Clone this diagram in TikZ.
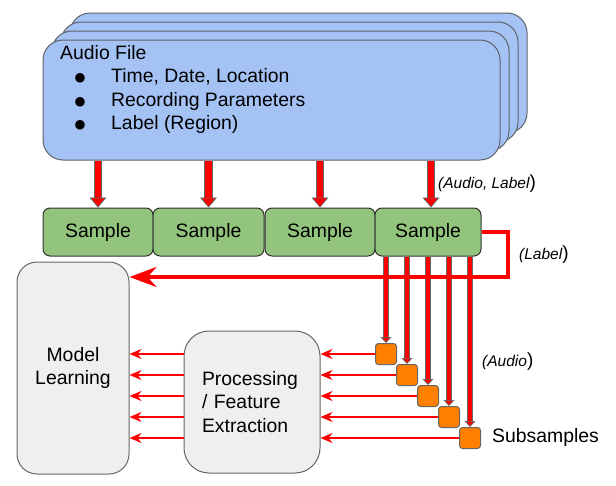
\documentclass[tikz,border=0pt]{standalone}
\usepackage{fontspec}
\setmainfont{Liberation Sans}
\newfontfamily\dgsym{DejaVu Sans}
\usetikzlibrary{arrows.meta}
\definecolor{audioblue}{HTML}{A4C2F4}
\definecolor{audioedge}{HTML}{5F6368}
\definecolor{samplegreen}{HTML}{93C47D}
\definecolor{sampleedge}{HTML}{333333}
\definecolor{boxgray}{HTML}{EFEFEF}
\definecolor{boxedge}{HTML}{666666}
\definecolor{suborange}{HTML}{FF8000}
\definecolor{arrgray}{HTML}{666666}
\newcommand{\dgmain}{\fontsize{19.4}{23.5}\selectfont}
\newcommand{\dgital}{\fontsize{15.5}{18}\selectfont\itshape}
\newcommand{\dgparen}{{\fontsize{19}{19}\selectfont\upshape)}}
\begin{document}
\begin{tikzpicture}[x=1pt,y=-1pt,
  audiobox/.style={draw=audioedge, fill=audioblue, line width=1pt, rounded corners=20pt,
    minimum width=457pt, minimum height=120pt, inner sep=0pt},
  samplebox/.style={draw=sampleedge, fill=samplegreen, line width=1pt, rounded corners=7pt,
    minimum height=48pt, inner sep=0pt, font=\dgmain},
  graybox/.style={draw=boxedge, fill=boxgray, line width=1pt, inner sep=0pt, font=\dgmain},
  subbox/.style={draw=boxedge, fill=suborange, line width=1pt, rounded corners=3pt,
    minimum size=21pt, inner sep=0pt},
  txt/.style={inner sep=0pt, anchor=west, font=\dgmain},
  bul/.style={inner sep=0pt, anchor=center, font=\dgsym\fontsize{12.5}{13}\selectfont},
  itxt/.style={inner sep=0pt, anchor=west, font=\dgital},
  bigarrow/.style={draw=red, line width=6.5pt,
    -{Triangle[length=10pt,width=17pt,color=arrgray,fill=red,line width=0.8pt]},
    preaction={draw=arrgray, line width=8.5pt, -, shorten >=7pt}},
  subarrow/.style={draw=red, line width=4pt,
    -{Triangle[length=6pt,width=11pt,color=arrgray,fill=red,line width=0.7pt]},
    preaction={draw=arrgray, line width=5.6pt, -, shorten >=4pt}},
  thinarrow/.style={draw=red, line width=2pt, -{Stealth[length=12pt,width=10pt,inset=4pt]}},
  labelarrow/.style={draw=red, line width=4pt, line join=miter,
    -{Stealth[length=27pt,width=20pt,inset=9pt]}}
]
\useasboundingbox (0,0) rectangle (616,485);
\fill[white] (0,0) rectangle (616,485);

% audio file stack
\node[audiobox] (audio4) at (298.5,73) {};
\node[audiobox] (audio3) at (289.5,82) {};
\node[audiobox] (audio2) at (280.5,91) {};
\node[audiobox] (audio) at (271.5,100) {};
\node[txt] (atitle) at (60,53) {Audio File};
\node[bul] (b1) at (80,78) {●};
\node[bul] (b2) at (80,102) {●};
\node[bul] (b3) at (80,125) {●};
\node[txt] (t1) at (111,77) {Time, Date, Location};
\node[txt] (t2) at (111,101) {Recording Parameters};
\node[txt] (t3) at (111,124) {Label (Region)};

% samples
\node[samplebox, minimum width=110pt] (sample1) at (98,232) {Sample};
\node[samplebox, minimum width=111pt] (sample2) at (208.5,232) {Sample};
\node[samplebox, minimum width=110pt] (sample3) at (320,232) {Sample};
\node[samplebox, minimum width=106pt] (sample4) at (428,232) {Sample};

% model learning and processing
\node[graybox, rounded corners=20pt, minimum width=112pt, minimum height=212pt, align=center] (model) at (73,368) {Model\\Learning};
\node[graybox, rounded corners=25pt, minimum width=136pt, minimum height=142pt, text width=100pt, align=left] (proc) at (252,402) {Processing\\/ Feature\\Extraction};

% subsamples
\node[subbox] (sub1) at (386,354) {};
\node[subbox] (sub2) at (407,375) {};
\node[subbox] (sub3) at (428,396) {};
\node[subbox] (sub4) at (449,417) {};
\node[subbox] (sub5) at (470,438) {};

% annotations
\node[itxt] (lal) at (438,184) {(Audio, Label\dgparen};
\node[itxt] (llab) at (519,255) {(Label\dgparen};
\node[itxt] (laud) at (482,362) {(Audio\dgparen};
\node[txt] (lsub) at (492,437) {Subsamples};

% arrows audio -> samples
\draw[bigarrow] (sample1.north |- audio.south) -- (sample1.north);
\draw[bigarrow] (sample2.north |- audio.south) -- (sample2.north);
\draw[bigarrow] (sample3.north |- audio.south) -- (sample3.north);
\draw[bigarrow] ([xshift=3pt]sample4.north |- audio.south) -- ([xshift=3pt]sample4.north);

% sample -> subsamples
\foreach \i in {1,...,5}{
  \draw[subarrow] (sub\i.north |- sample4.south) -- (sub\i.north);
}

% label path
\coordinate (lc) at (508,232);
\coordinate (lb) at (508,277);
\draw[labelarrow] (sample4.east) -- (lc) -- (lb) -- (lb -| model.east);

% subsamples -> processing, processing -> model
\foreach \i in {1,...,5}{
  \draw[thinarrow] (sub\i.west) -- (sub\i.west -| proc.east);
  \draw[thinarrow] (sub\i.west -| proc.west) -- (sub\i.west -| model.east);
}
\end{tikzpicture}
\end{document}
